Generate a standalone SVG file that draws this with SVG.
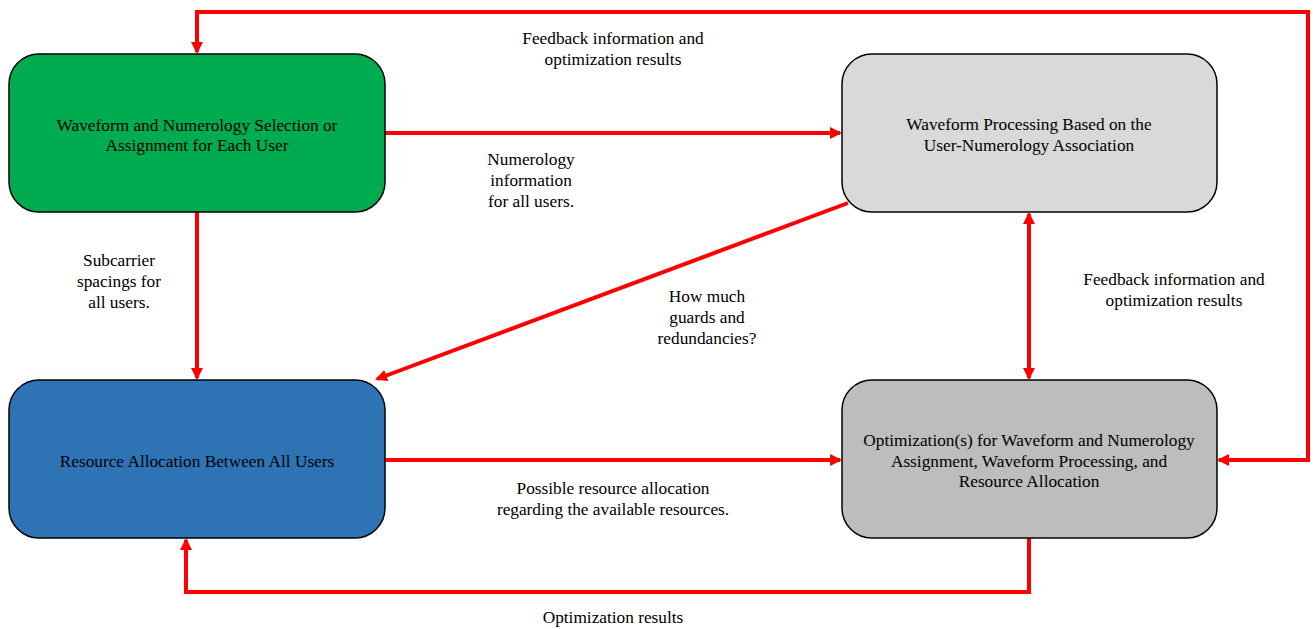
<svg xmlns="http://www.w3.org/2000/svg" width="1314" height="629" viewBox="0 0 1314 629">
<style>
.box{stroke:#000;stroke-width:1.5}
text{font-family:"Liberation Serif","Times New Roman",serif;font-size:17.3px;fill:#000;text-anchor:middle}
.c{fill:none;stroke:#FF0000;stroke-width:4}
</style>
<defs>
<marker id="ah" markerWidth="12" markerHeight="12" refX="10" refY="6" orient="auto-start-reverse" markerUnits="userSpaceOnUse" viewBox="0 0 12 12">
<path d="M0,0 L12,6 L0,12 Z" fill="#FF0000"/>
</marker>
</defs>
<rect width="1314" height="629" fill="#fff"/>
<g id="connectors">
<path class="c" d="M197,52 V12 H1308 V460 H1219" marker-start="url(#ah)" marker-end="url(#ah)"/>
<path class="c" d="M385,133 H840" marker-end="url(#ah)"/>
<path class="c" d="M197,212 V378" marker-end="url(#ah)"/>
<path class="c" d="M848,203 L377,379" marker-end="url(#ah)"/>
<path class="c" d="M1029,214 V378" marker-start="url(#ah)" marker-end="url(#ah)"/>
<path class="c" d="M385,460 H840" marker-end="url(#ah)"/>
<path class="c" d="M1029,538 V592 H186 V540" marker-end="url(#ah)"/>
</g>
<g id="labels">
<text x="613" y="44">Feedback information and</text>
<text x="613" y="65">optimization results</text>
<text x="531" y="165">Numerology</text>
<text x="531" y="186">information</text>
<text x="531" y="207">for all users.</text>
<text x="119" y="266">Subcarrier</text>
<text x="119" y="287">spacings for</text>
<text x="119" y="308">all users.</text>
<text x="707" y="302">How much</text>
<text x="707" y="323">guards and</text>
<text x="707" y="344">redundancies?</text>
<text x="1174" y="285">Feedback information and</text>
<text x="1174" y="306">optimization results</text>
<text x="613" y="494">Possible resource allocation</text>
<text x="613" y="515">regarding the available resources.</text>
<text x="613" y="623">Optimization results</text>
</g>
<g id="node1">
<rect class="box" x="9" y="54" width="376" height="158" rx="30" fill="#00AC4F"/>
<text x="197" y="131">Waveform and Numerology Selection or</text>
<text x="197" y="151">Assignment for Each User</text>
</g>
<g id="node2">
<rect class="box" x="842" y="54" width="375" height="158" rx="30" fill="#D9D9D9"/>
<text x="1029" y="130">Waveform Processing Based on the</text>
<text x="1029" y="151">User-Numerology Association</text>
</g>
<g id="node3">
<rect class="box" x="9" y="380" width="376" height="158" rx="30" fill="#2E74B5"/>
<text x="197" y="467">Resource Allocation Between All Users</text>
</g>
<g id="node4">
<rect class="box" x="842" y="380" width="375" height="158" rx="30" fill="#BDBDBD"/>
<text x="1029" y="446">Optimization(s) for Waveform and Numerology</text>
<text x="1029" y="467">Assignment, Waveform Processing, and</text>
<text x="1029" y="487">Resource Allocation</text>
</g>
</svg>
